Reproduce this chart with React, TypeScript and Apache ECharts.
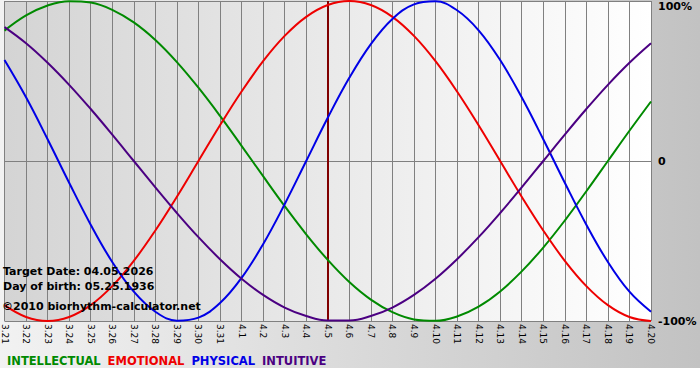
import React, { useEffect, useRef } from "react";
import * as echarts from "echarts";

const categories = [
  "3.21", "3.22", "3.23", "3.24", "3.25", "3.26", "3.27", "3.28", "3.29", "3.30", "3.31",
  "4.1", "4.2", "4.3", "4.4", "4.5", "4.6", "4.7", "4.8", "4.9", "4.10",
  "4.11", "4.12", "4.13", "4.14", "4.15", "4.16", "4.17", "4.18", "4.19", "4.20",
];

const intellectual = [
  81.5, 91.0, 97.2, 99.9, 99.0, 94.5, 86.6, 75.6, 61.8, 45.8, 28.2,
  9.5, -9.5, -28.2, -45.8, -61.8, -75.6, -86.6, -94.5, -99.0, -99.9,
  -97.2, -91.0, -81.5, -69.0, -54.1, -37.2, -18.9, 0, 18.9, 37.2,
];
const emotional = [
  -90.1, -97.5, -100, -97.5, -90.1, -78.2, -62.4, -43.4, -22.3, 0, 22.3,
  43.4, 62.4, 78.2, 90.1, 97.5, 100, 97.5, 90.1, 78.2, 62.4,
  43.4, 22.3, 0, -22.3, -43.4, -62.4, -78.2, -90.1, -97.5, -100,
];
const physical = [
  63.1, 39.8, 13.6, -13.6, -39.8, -63.1, -81.7, -94.2, -99.8, -97.9, -88.8,
  -73.1, -52.0, -27.0, 0, 27.0, 52.0, 73.1, 88.8, 97.9, 99.8,
  94.2, 81.7, 63.1, 39.8, 13.6, -13.6, -39.8, -63.1, -81.7, -94.2,
];
const intuitive = [
  83.7, 73.6, 61.4, 47.6, 32.5, 16.5, 0, -16.5, -32.5, -47.6, -61.4,
  -73.6, -83.7, -91.6, -96.9, -99.7, -99.7, -96.9, -91.6, -83.7, -73.6,
  -61.4, -47.6, -32.5, -16.5, 0, 16.5, 32.5, 47.6, 61.4, 73.6,
];

const yTicks = { min: -100, max: 100, interval: 100 };
const targetDay = "4.5";
const infoLines = [
  "Target Date: 04.05.2026",
  "Day of birth: 05.25.1936",
  "\u00a92010 biorhythm-calculator.net",
];

const seriesDefs = [
  { name: "INTELLECTUAL", color: "#008a00", data: intellectual },
  { name: "EMOTIONAL", color: "#ee0000", data: emotional },
  { name: "PHYSICAL", color: "#0000e6", data: physical },
  { name: "INTUITIVE", color: "#4b0082", data: intuitive },
];

const FONT = "DejaVu Sans, Verdana, sans-serif";

export default function App() {
  const ref = useRef<HTMLDivElement>(null);

  useEffect(() => {
    if (!ref.current) return;
    const chart = echarts.init(ref.current, undefined, { renderer: "svg" });
    const series: any[] = seriesDefs.map((s, idx) => ({
      name: s.name,
      type: "line",
      data: s.data,
      smooth: 0.4,
      symbol: "none",
      lineStyle: { color: s.color, width: 2 },
      itemStyle: { color: s.color },
      z: 3,
      markLine:
        idx === 0
          ? {
              silent: true,
              symbol: "none",
              label: { show: false },
              lineStyle: { color: "#800000", width: 2, type: "solid" },
              data: [{ xAxis: targetDay }],
              z: 2,
            }
          : undefined,
    }));

    chart.setOption({
      animation: false,
      backgroundColor: "transparent",
      grid: {
        left: 0,
        right: 49,
        top: 1,
        bottom: 59,
        show: true,
        borderWidth: 0,
        backgroundColor: new echarts.graphic.LinearGradient(0, 0, 1, 0, [
          { offset: 0, color: "#d4d4d4" },
          { offset: 1, color: "#ffffff" },
        ]),
      },
      legend: {
        left: 2,
        top: 355,
        padding: 0,
        icon: "rect",
        itemWidth: 0,
        itemHeight: 0,
        itemGap: 2,
        selectedMode: false,
        data: seriesDefs.map((s) => ({
          name: s.name,
          textStyle: { color: s.color, fontWeight: "bold", fontSize: 11.5, fontFamily: FONT },
        })),
      },
      xAxis: {
        type: "category",
        data: categories,
        boundaryGap: false,
        axisLine: { lineStyle: { color: "#808080", width: 1 } },
        axisTick: { show: true, length: 4, lineStyle: { color: "#808080" } },
        axisLabel: {
          rotate: -90,
          interval: 0,
          margin: 3,
          fontSize: 9,
          color: "#000",
          fontFamily: FONT,
        },
        splitLine: { show: true, lineStyle: { color: "#808080", width: 1 } },
      },
      yAxis: {
        type: "value",
        position: "right",
        min: yTicks.min,
        max: yTicks.max,
        interval: yTicks.interval,
        axisLine: { show: false },
        axisTick: { show: false },
        axisLabel: {
          margin: 7,
          fontSize: 11,
          fontWeight: "bold",
          color: "#000",
          fontFamily: FONT,
          verticalAlignMaxLabel: "top",
          formatter: (v: number) => (v === 0 ? "0" : v + "%"),
        },
        splitLine: { show: true, lineStyle: { color: "#808080", width: 1 } },
      },
      graphic: infoLines.map((t, i) => ({
        type: "text",
        x: i === 2 ? 2 : 3,
        y: [271, 286, 306][i],
        z: 10,
        style: {
          text: t,
          fill: "#000",
          font: `bold 11px ${FONT}`,
          textVerticalAlign: "middle",
        },
      })),
      series,
    });
    return () => chart.dispose();
  }, []);

  return (
    <div
      style={{
        position: "fixed",
        left: 0,
        top: 0,
        width: 700,
        height: 380,
        background: "#ffffff",
      }}
    >
      <div
        style={{
          position: "absolute",
          left: 0,
          top: 0,
          width: 700,
          height: 368,
          background: "linear-gradient(to right, #f2f2f2, #c2c2c2)",
        }}
      />
      <div ref={ref} style={{ position: "absolute", left: 0, top: 0, width: 700, height: 380 }} />
    </div>
  );
}
